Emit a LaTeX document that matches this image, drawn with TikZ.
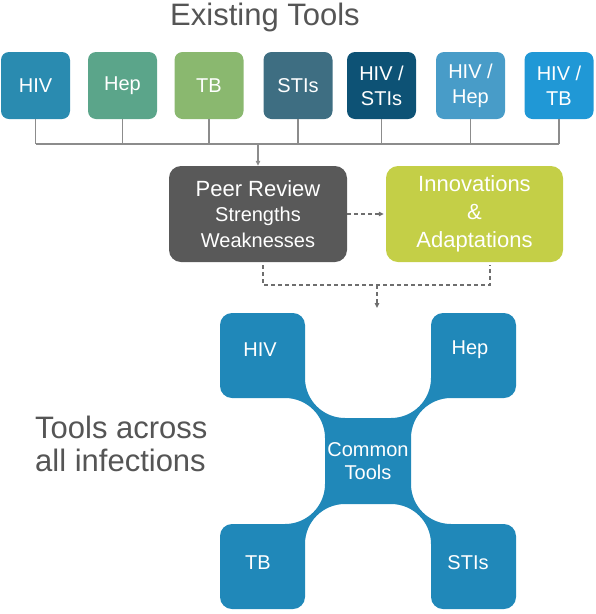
\documentclass[tikz,border=0pt]{standalone}
\usepackage{fontspec}
\setmainfont{Liberation Sans}
\usetikzlibrary{arrows.meta}
\definecolor{cHIV}{RGB}{42,139,176}
\definecolor{cHep}{RGB}{91,165,138}
\definecolor{cTB}{RGB}{138,184,111}
\definecolor{cSTI}{RGB}{62,110,130}
\definecolor{cHS}{RGB}{13,82,117}
\definecolor{cHH}{RGB}{72,156,200}
\definecolor{cHT}{RGB}{32,152,214}
\definecolor{cPeer}{RGB}{89,89,89}
\definecolor{cInno}{RGB}{196,207,71}
\definecolor{cX}{RGB}{32,136,185}
\definecolor{cText}{RGB}{85,85,85}
\definecolor{cLine}{RGB}{140,140,140}
\definecolor{cDash}{RGB}{110,110,110}
\begin{document}
\begin{tikzpicture}[x=1pt,y=-1pt,
 toolbox/.style={rounded corners=8pt, minimum width=69pt, minimum height=67pt, inner sep=0pt, align=center, text=white, font=\fontsize{20}{25}\selectfont},
 bigbox/.style={rounded corners=12pt, minimum width=178pt, minimum height=96pt, inner sep=0pt, align=center, text=white},
 busline/.style={draw=cLine, line width=1.4pt},
 dashline/.style={draw=cDash, line width=1.3pt, dash pattern=on 4pt off 3pt},
 tip/.style={-{Triangle[length=5pt,width=4.5pt]}},
 xlabel/.style={text=white, font=\fontsize{20}{23}\selectfont, align=center, inner sep=0pt},
 heading/.style={text=cText, align=center, inner sep=0pt}
]
\useasboundingbox (0,0) rectangle (596,614);

\node[heading, font=\fontsize{31}{36}\selectfont, anchor=base] (title) at (265,25) {Existing Tools};

\node[toolbox, fill=cHIV] (t1) at (35.5,85.5) {HIV};
\node[toolbox, fill=cHep] (t2) at (122.5,85.5) {Hep};
\node[toolbox, fill=cTB]  (t3) at (209,85.5) {TB};
\node[toolbox, fill=cSTI] (t4) at (298,85.5) {STIs};
\node[toolbox, fill=cHS]  (t5) at (381.5,85.5) {HIV /\\STIs};
\node[toolbox, fill=cHH]  (t6) at (470.5,85.5) {HIV /\\Hep};
\node[toolbox, fill=cHT]  (t7) at (559,85.5) {HIV /\\TB};

\node[bigbox, fill=cPeer, font=\fontsize{20}{25.5}\selectfont] (peer) at (258,214)
  {{\fontsize{22}{26}\selectfont Peer Review}\\Strengths\\Weaknesses};
\node[bigbox, fill=cInno, minimum width=177pt, font=\fontsize{22}{28}\selectfont] (innov) at (474.5,214)
  {Innovations\\\&\\Adaptations};

\coordinate (busL) at (35.5,144);
\coordinate (busR) at (559,144);
\coordinate (busM) at (258,144);
\foreach \i in {1,...,7} \draw[busline] (t\i.south) -- (t\i.south |- busL);
\draw[busline] (busL) -- (busR);
\draw[busline, tip] (busM) -- (peer.north);

\draw[dashline, tip] (peer.east) -- ([xshift=-2pt]innov.west);
\coordinate (merge) at (377,285);
\coordinate (xtop) at (377,308);
\coordinate (pd) at ([xshift=5pt,yshift=-3pt]peer.south);
\coordinate (id) at ([xshift=15.5pt,yshift=-3pt]innov.south);
\draw[dashline] (pd) |- (merge) -| (id);
\draw[dashline, tip] (merge) -- (xtop);

% X shape
\fill[cX] (232,313) -- (293,313) arc[start angle=270,end angle=360,radius=12]
 -- (305,378) arc[start angle=180,end angle=90,radius=40]
 -- (391,418) arc[start angle=90,end angle=0,radius=40]
 -- (431,325) arc[start angle=180,end angle=270,radius=12]
 -- (504,313) arc[start angle=270,end angle=360,radius=12]
 -- (516,386) arc[start angle=0,end angle=90,radius=12]
 -- (451,398) arc[start angle=270,end angle=180,radius=40]
 -- (411,484) arc[start angle=180,end angle=90,radius=40]
 -- (504,524) arc[start angle=270,end angle=360,radius=12]
 -- (516,597) arc[start angle=0,end angle=90,radius=12]
 -- (443,609) arc[start angle=90,end angle=180,radius=12]
 -- (431,544) arc[start angle=0,end angle=-90,radius=40]
 -- (345,504) arc[start angle=270,end angle=180,radius=40]
 -- (305,597) arc[start angle=0,end angle=90,radius=12]
 -- (232,609) arc[start angle=90,end angle=180,radius=12]
 -- (220,536) arc[start angle=180,end angle=270,radius=12]
 -- (285,524) arc[start angle=90,end angle=0,radius=40]
 -- (325,438) arc[start angle=0,end angle=-90,radius=40]
 -- (232,398) arc[start angle=90,end angle=180,radius=12]
 -- (220,325) arc[start angle=180,end angle=270,radius=12] -- cycle;

\node[xlabel] (xhiv) at (260,350) {HIV};
\node[xlabel] (xhep) at (470,350) {Hep};
\node[xlabel] (xtb) at (258,563) {TB};
\node[xlabel] (xsti) at (468,563) {STIs};
\node[xlabel] (common) at (368,461) {Common\\Tools};

\node[heading, align=left, anchor=west, font=\fontsize{31}{33}\selectfont] (across) at (35,444) {Tools across\\all infections};
\end{tikzpicture}
\end{document}
